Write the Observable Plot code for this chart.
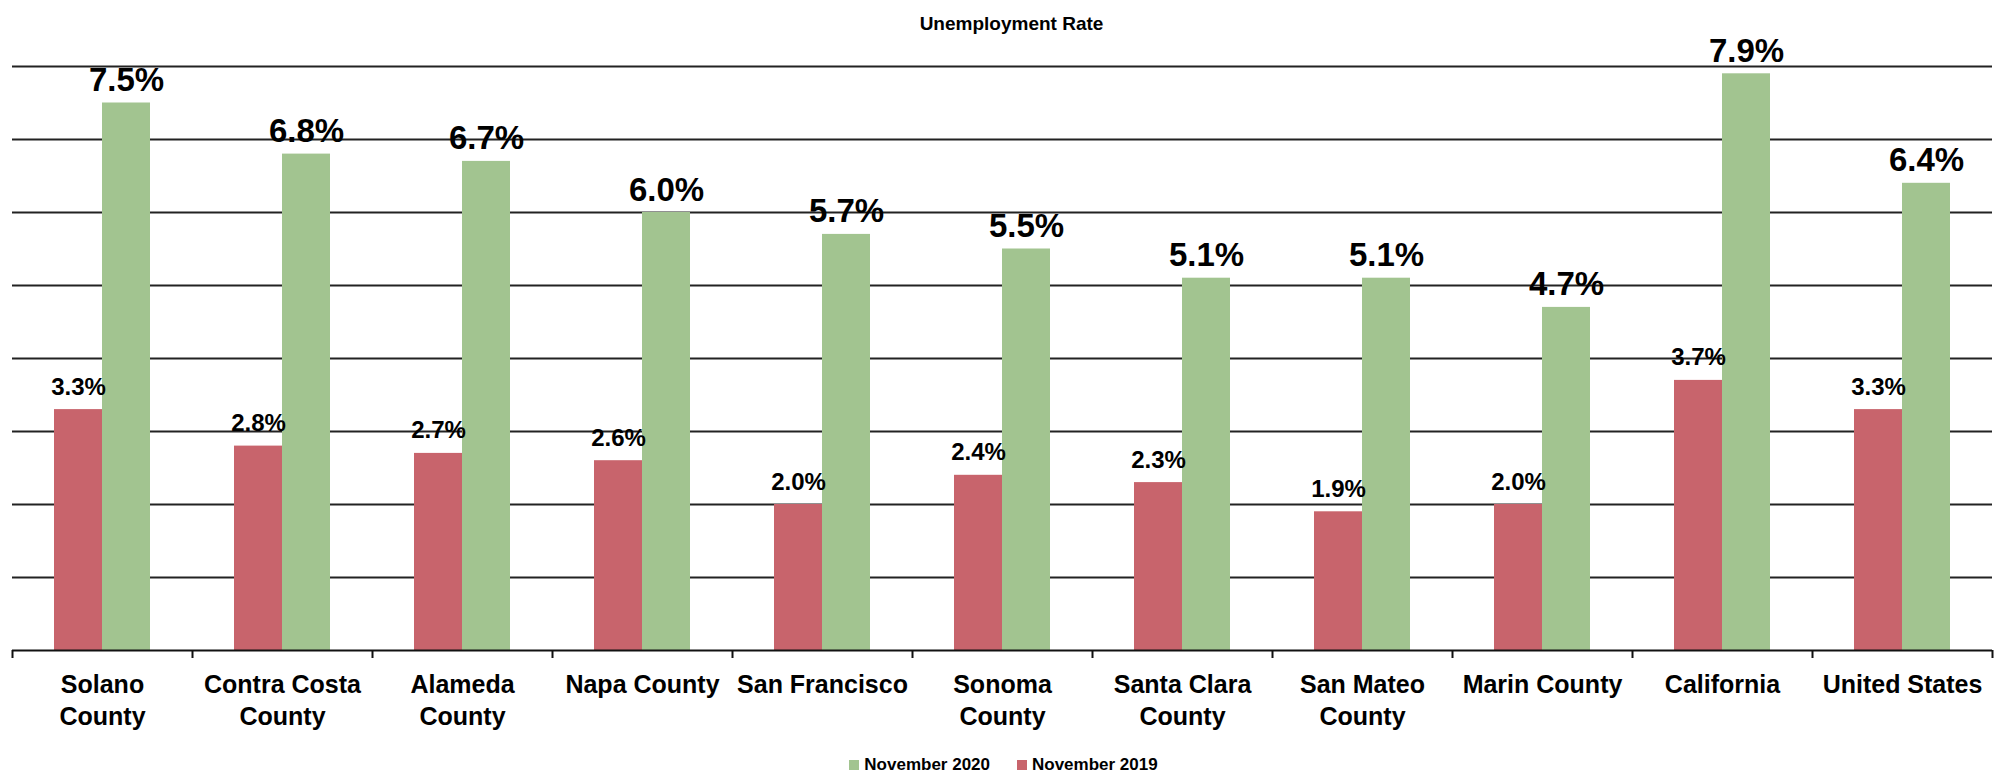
<!DOCTYPE html>
<html>
<head>
<meta charset="utf-8">
<script src="https://cdn.jsdelivr.net/npm/d3@7"></script>
<script src="https://cdn.jsdelivr.net/npm/@observablehq/plot@0.6"></script>
<style>
  html, body { margin: 0; padding: 0; background: #fff; }
  body { font-family: "Liberation Sans", Arial, sans-serif; color: #000; }
  #wrap { width: 2007px; height: 776px; position: relative; overflow: hidden; }
  #title { height: 40px; position: relative; }
  #title span { position: absolute; left: 8px; width: 2007px; top: 14px; line-height: 19px;
    font-size: 19px; font-weight: bold; text-align: center; }
  #chart svg { display: block; }
  #legend { height: 24px; position: relative; font-size: 17px; font-weight: bold; }
  #legend .items { position: absolute; left: 0; width: 2007px; top: 4px; text-align: center; line-height: 18px; white-space: nowrap; }
  #legend .sw { display: inline-block; width: 10px; height: 10px; margin-right: 5px; vertical-align: 0px; }
  #legend .item { display: inline-block; }
  #legend .item + .item { margin-left: 27px; }
</style>
</head>
<body>
<div id="wrap">
  <div id="title"><span>Unemployment Rate</span></div>
  <div id="chart"></div>
  <div id="legend"><div class="items"></div></div>
</div>
<script>
// ---- data ----
const categories = ["Solano County", "Contra Costa County", "Alameda County", "Napa County", "San Francisco",
  "Sonoma County", "Santa Clara County", "San Mateo County", "Marin County", "California", "United States"];
const tickLabels = ["Solano\nCounty", "Contra Costa\nCounty", "Alameda\nCounty", "Napa County", "San Francisco",
  "Sonoma\nCounty", "Santa Clara\nCounty", "San Mateo\nCounty", "Marin County", "California", "United States"];
const nov2019 = [3.3, 2.8, 2.7, 2.6, 2.0, 2.4, 2.3, 1.9, 2.0, 3.7, 3.3];
const nov2020 = [7.5, 6.8, 6.7, 6.0, 5.7, 5.5, 5.1, 5.1, 4.7, 7.9, 6.4];
const gridValues = [1, 2, 3, 4, 5, 6, 7, 8];
const seriesNames = ["November 2020", "November 2019"];
const seriesColors = ["#A2C490", "#C8646C"];

// ---- build ----
const rows = categories.map((c, i) => ({cat: c, label: tickLabels[i], v2019: nov2019[i], v2020: nov2020[i]}));
const W = 2007, H = 712, mL = 12, mR = 15, mT = 26, mB = 102;
const bw = (W - mL - mR) / categories.length;
const fmt = v => v.toFixed(1) + "%";
const font = '"Liberation Sans", Arial, sans-serif';

const chart = Plot.plot({
  width: W, height: H,
  marginTop: mT, marginBottom: mB, marginLeft: mL, marginRight: mR,
  x: {type: "band", domain: categories, padding: 0, axis: null},
  y: {domain: [0, 8], axis: null},
  style: {fontFamily: font, background: "#fff", overflow: "visible"},
  marks: [
    Plot.ruleY(gridValues, {stroke: "#222", strokeWidth: 2}),
    Plot.barY(rows, {x: "cat", y: "v2019", fill: seriesColors[1], insetLeft: bw * 42 / 180, insetRight: bw * 90 / 180}),
    Plot.barY(rows, {x: "cat", y: "v2020", fill: seriesColors[0], insetLeft: bw * 90 / 180, insetRight: bw * 42 / 180}),
    Plot.ruleY([0], {stroke: "#111", strokeWidth: 2}),
    Plot.ruleX(categories, {x: d => d, y1: 0, y2: 0, dx: -bw / 2, insetBottom: -8, stroke: "#111", strokeWidth: 2}),
    Plot.ruleX(categories.slice(-1), {x: d => d, y1: 0, y2: 0, dx: bw / 2, insetBottom: -8, stroke: "#111", strokeWidth: 2}),
    Plot.text(rows, {x: "cat", text: "label", frameAnchor: "bottom", lineAnchor: "top", dy: 19,
      fontSize: 25, fontWeight: "bold", lineHeight: 1.3, fill: "#000"}),
    Plot.text(rows, {x: "cat", y: "v2019", text: d => fmt(d.v2019), dx: -bw * 24 / 180, dy: -15,
      lineAnchor: "bottom", fontSize: 24, fontWeight: "bold", fill: "#000"}),
    Plot.text(rows, {x: "cat", y: "v2020", text: d => fmt(d.v2020), dx: bw * 24 / 180, dy: -12,
      lineAnchor: "bottom", fontSize: 33, fontWeight: "bold", fill: "#000"})
  ]
});
document.getElementById("chart").append(chart);

const items = document.querySelector("#legend .items");
seriesNames.forEach((name, i) => {
  const it = document.createElement("span");
  it.className = "item";
  const sw = document.createElement("span");
  sw.className = "sw";
  sw.style.background = seriesColors[i];
  it.append(sw, document.createTextNode(name));
  items.append(it);
});
</script>
</body>
</html>
